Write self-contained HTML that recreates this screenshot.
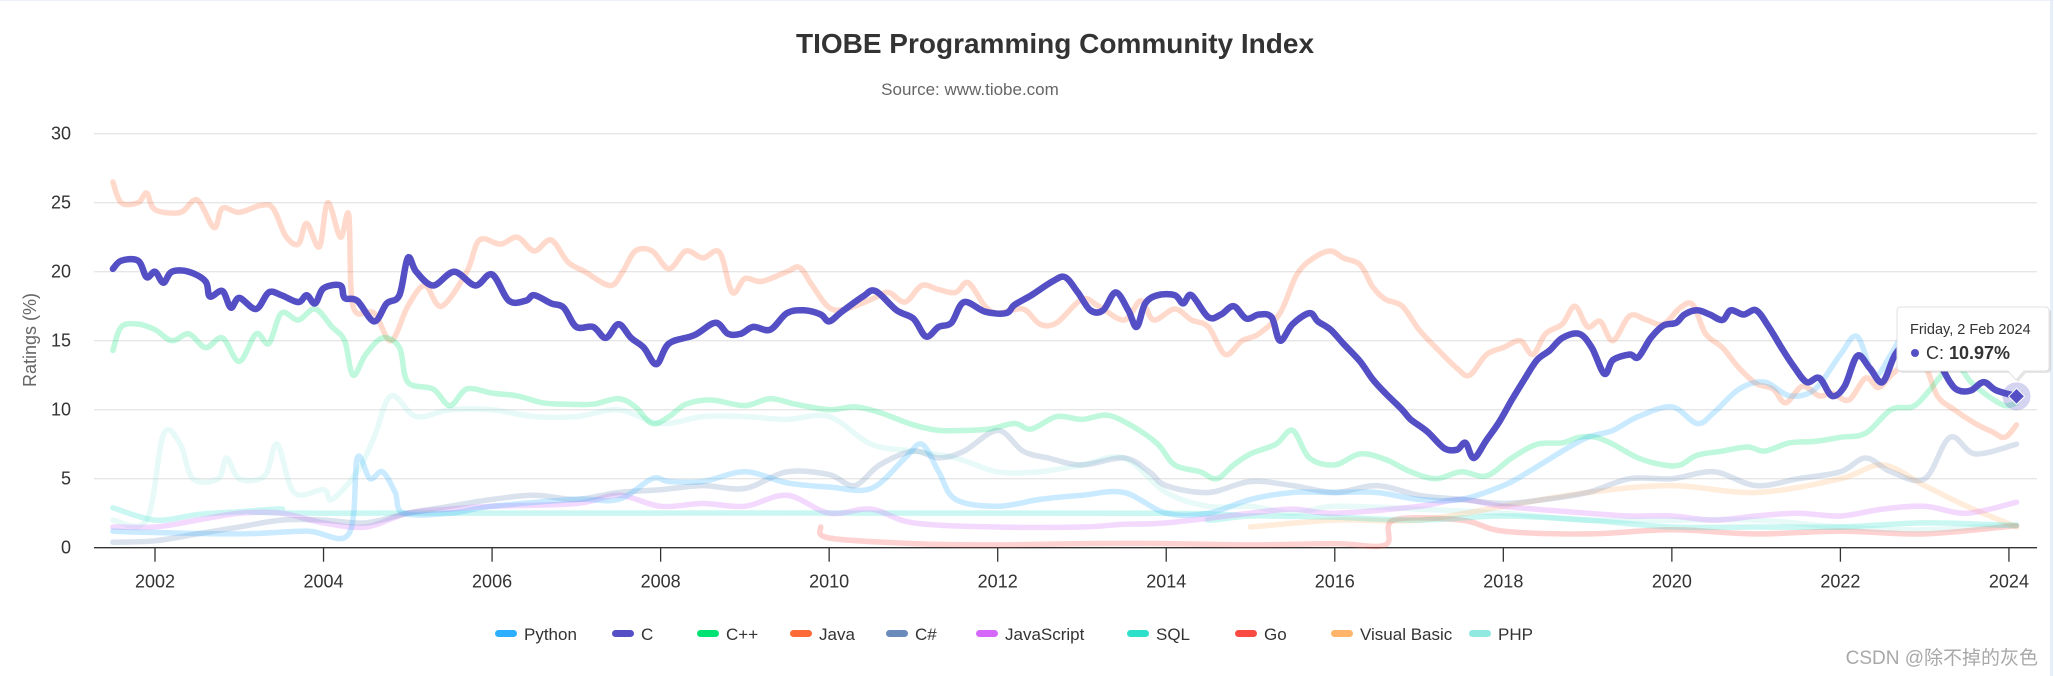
<!DOCTYPE html>
<html><head><meta charset="utf-8">
<style>
html,body{margin:0;padding:0;background:#fff;}
body{width:2054px;height:676px;overflow:hidden;position:relative;font-family:"Liberation Sans","Noto Sans CJK SC",sans-serif;}
svg{position:absolute;left:0;top:0;}
</style></head>
<body>
<svg id="chart" width="2054" height="676" xmlns="http://www.w3.org/2000/svg">
<rect x="0" y="0" width="2054" height="676" fill="#fff"/>
<line x1="0" y1="0.5" x2="2054" y2="0.5" stroke="#eef3f9"/>
<line x1="2051.5" y1="0" x2="2051.5" y2="676" stroke="#e6eef7" stroke-width="3"/>
<text x="1055" y="53" text-anchor="middle" font-size="28" font-weight="bold" fill="#333">TIOBE Programming Community Index</text>
<text x="970" y="95" text-anchor="middle" font-size="17" fill="#666">Source: www.tiobe.com</text>
<g id="grid"></g>
<g id="yaxis"></g>
<g id="xaxis"></g>
<g id="series"></g>
<g id="legend"></g>
<g id="tooltip"></g>
<text x="36" y="340" transform="rotate(-90 36 340)" text-anchor="middle" font-size="18" fill="#666">Ratings (%)</text>
<text x="2038" y="664" text-anchor="end" font-size="19" fill="#999" fill-opacity="0.85">CSDN @除不掉的灰色</text>
</svg>
<script>
const yTicks=[0,5,10,15,20,25,30];
const xTicks=[2002,2004,2006,2008,2010,2012,2014,2016,2018,2020,2022,2024];
const seriesNames=["Python","C","C++","Java","C#","JavaScript","SQL","Go","Visual Basic","PHP"];
const seriesColors=["#2caffe","#544fc5","#00e272","#fe6a35","#6b8abc","#d568fb","#2ee0ca","#fa4b42","#feb56a","#91e8e1"];
const legendX=[495,612,697,790,886,976,1127,1235,1331,1469];

const cT=[2001.5,2001.6,2001.8,2001.9,2002.0,2002.1,2002.2,2002.4,2002.6,2002.65,2002.8,2002.9,2003.0,2003.2,2003.35,2003.5,2003.7,2003.8,2003.9,2004.0,2004.2,2004.25,2004.4,2004.6,2004.75,2004.9,2005.0,2005.1,2005.3,2005.55,2005.8,2006.0,2006.2,2006.4,2006.5,2006.7,2006.85,2007.0,2007.2,2007.35,2007.5,2007.65,2007.8,2007.95,2008.1,2008.4,2008.65,2008.8,2008.95,2009.1,2009.3,2009.5,2009.7,2009.9,2010.0,2010.15,2010.4,2010.55,2010.8,2011.0,2011.15,2011.3,2011.45,2011.6,2011.85,2012.1,2012.2,2012.4,2012.65,2012.8,2012.95,2013.1,2013.25,2013.4,2013.55,2013.65,2013.75,2013.9,2014.1,2014.2,2014.3,2014.5,2014.65,2014.8,2014.95,2015.1,2015.25,2015.35,2015.5,2015.7,2015.8,2015.95,2016.1,2016.3,2016.45,2016.6,2016.8,2016.9,2017.1,2017.3,2017.45,2017.55,2017.65,2017.8,2017.95,2018.1,2018.25,2018.4,2018.55,2018.7,2018.9,2019.05,2019.2,2019.3,2019.5,2019.6,2019.75,2019.9,2020.05,2020.15,2020.3,2020.45,2020.6,2020.7,2020.85,2021.0,2021.15,2021.3,2021.45,2021.6,2021.75,2021.9,2022.05,2022.2,2022.35,2022.5,2022.65,2022.8,2023.0,2023.15,2023.3,2023.4,2023.55,2023.7,2023.85,2024.09];
const cV=[20.2,20.8,20.8,19.6,20.0,19.2,20.0,20.0,19.3,18.2,18.6,17.4,18.1,17.3,18.5,18.3,17.8,18.3,17.7,18.8,19.0,18.1,17.9,16.4,17.7,18.3,21.0,20.0,19.0,20.0,19.0,19.8,17.9,17.9,18.3,17.7,17.4,16.0,16.0,15.2,16.2,15.2,14.5,13.3,14.8,15.4,16.3,15.5,15.5,16.0,15.8,17.0,17.2,16.9,16.4,17.1,18.2,18.6,17.2,16.6,15.3,16.0,16.3,17.8,17.1,17.0,17.6,18.3,19.3,19.6,18.5,17.2,17.2,18.5,17.2,16.0,17.7,18.3,18.3,17.7,18.3,16.7,16.9,17.5,16.6,16.9,16.7,15.0,16.2,17.0,16.4,15.8,14.8,13.5,12.2,11.2,10.0,9.3,8.4,7.2,7.1,7.6,6.5,7.8,9.1,10.7,12.2,13.6,14.3,15.2,15.5,14.5,12.6,13.6,14.0,13.8,15.2,16.1,16.3,16.9,17.2,16.9,16.5,17.2,16.9,17.2,16.0,14.5,13.1,12.0,12.3,11.0,11.7,13.9,13.0,12.0,14.0,14.8,14.3,13.6,12.0,11.4,11.4,12.0,11.4,10.97];

const javaT=[2001.5,2001.6,2001.8,2001.9,2002.0,2002.3,2002.5,2002.7,2002.8,2003.0,2003.25,2003.4,2003.55,2003.7,2003.8,2003.95,2004.05,2004.2,2004.3,2004.35,2004.6,2004.8,2005.0,2005.2,2005.4,2005.7,2005.85,2006.1,2006.3,2006.5,2006.7,2006.9,2007.1,2007.4,2007.55,2007.7,2007.9,2008.1,2008.3,2008.5,2008.7,2008.85,2009.0,2009.2,2009.5,2009.65,2009.8,2010.0,2010.2,2010.5,2010.7,2010.9,2011.1,2011.3,2011.5,2011.65,2011.85,2012.0,2012.3,2012.5,2012.7,2013.0,2013.2,2013.5,2013.7,2013.85,2014.1,2014.3,2014.5,2014.7,2014.9,2015.1,2015.35,2015.55,2015.75,2015.95,2016.1,2016.3,2016.45,2016.6,2016.8,2017.0,2017.2,2017.45,2017.6,2017.8,2018.0,2018.2,2018.35,2018.5,2018.7,2018.85,2019.0,2019.15,2019.3,2019.5,2019.7,2019.9,2020.1,2020.25,2020.4,2020.6,2020.8,2021.0,2021.2,2021.35,2021.55,2021.75,2021.9,2022.1,2022.3,2022.45,2022.6,2022.8,2023.0,2023.15,2023.35,2023.6,2023.8,2023.95,2024.09];
const javaV=[26.5,25,25,25.7,24.5,24.3,25.2,23.2,24.6,24.3,24.8,24.6,22.6,22,23.5,21.8,25,22.5,24.1,17.5,17,15,17.5,19,17.5,20,22.3,22,22.5,21.5,22.3,20.7,20,19,20,21.5,21.5,20.2,21.5,21,21.4,18.5,19.5,19.3,20,20.3,19,17.4,17.3,18.0,18.5,17.8,19.0,18.7,18.5,19.2,17.5,17.0,17.3,16.2,16.3,18.0,17.5,16.5,17.9,16.5,17.3,16.5,16.0,14.0,15,15.5,17.0,19.8,21.0,21.5,21.0,20.5,18.9,18.0,17.5,15.8,14.5,13,12.5,14.0,14.5,15,14,15.5,16.2,17.5,16.0,16.4,15,16.8,16.5,16.2,17.4,17.6,15.5,14.5,13.0,11.9,11.5,10.5,11.7,11.0,11.2,10.7,12.3,11.6,12.5,13.4,13.2,11.0,10.0,9.0,8.4,8.0,8.9];

const cppT=[2001.5,2001.6,2001.8,2002.0,2002.2,2002.4,2002.6,2002.8,2003.0,2003.2,2003.35,2003.5,2003.7,2003.9,2004.1,2004.25,2004.35,2004.5,2004.7,2004.9,2005.0,2005.3,2005.5,2005.7,2006.0,2006.3,2006.6,2006.9,2007.2,2007.5,2007.7,2007.9,2008.1,2008.3,2008.6,2009.0,2009.3,2009.6,2010.0,2010.3,2010.6,2011.0,2011.3,2011.6,2011.9,2012.2,2012.4,2012.7,2013.0,2013.3,2013.6,2013.9,2014.1,2014.4,2014.6,2014.8,2015.0,2015.3,2015.5,2015.7,2016.0,2016.3,2016.6,2016.9,2017.2,2017.5,2017.8,2018.1,2018.4,2018.7,2018.9,2019.1,2019.3,2019.6,2019.9,2020.1,2020.3,2020.6,2020.9,2021.1,2021.4,2021.7,2022.0,2022.3,2022.6,2022.85,2023.0,2023.2,2023.35,2023.55,2023.75,2023.95,2024.09];
const cppV=[14.3,16,16.2,15.8,15,15.5,14.5,15.2,13.5,15.5,14.8,17,16.5,17.3,16,15,12.5,14,15.2,14.5,12,11.5,10.3,11.5,11.2,11,10.5,10.4,10.4,10.8,10.2,9.0,9.5,10.4,10.7,10.3,10.8,10.4,10.0,10.2,9.8,8.9,8.5,8.5,8.6,9.0,8.6,9.5,9.3,9.6,8.8,7.5,6.0,5.5,5.0,6.0,6.8,7.5,8.5,6.5,6.0,6.8,6.4,5.5,5.0,5.5,5.2,6.5,7.5,7.6,8.0,8.0,7.5,6.5,6.0,6.0,6.7,7.0,7.3,7.0,7.6,7.7,8.0,8.3,10,10.2,11.0,12.5,13.5,12.0,11.0,10.3,10.5];

const pyT=[2001.5,2002,2003,2003.8,2004.3,2004.4,2004.55,2004.7,2004.85,2004.95,2005.5,2006,2007,2007.5,2007.9,2008.1,2008.5,2009,2009.5,2010,2010.5,2010.9,2011.1,2011.3,2011.5,2012,2012.5,2013,2013.5,2014,2014.5,2015,2015.5,2016,2016.5,2017,2017.5,2018,2018.3,2018.7,2019,2019.3,2019.6,2020,2020.3,2020.5,2020.8,2021.1,2021.4,2021.7,2022.0,2022.2,2022.4,2022.6,2022.8,2023.0,2023.2,2023.5,2023.8,2024.09];
const pyV=[1.2,1.1,1.0,1.2,1.0,6.5,5.0,5.5,4.0,2.5,2.5,3.0,3.5,3.5,5.0,4.8,4.8,5.5,4.7,4.4,4.3,6.5,7.5,5.5,3.5,3.0,3.5,3.8,4.0,2.5,2.5,3.5,4.0,4.0,4.0,3.5,3.5,4.5,5.5,7.0,8.0,8.5,9.5,10.2,9.0,9.8,11.5,12.0,11.0,11.5,14.0,15.3,12.5,14.0,16.0,16.0,14.0,13.5,14.5,15.2];

const csT=[2001.5,2002,2002.5,2003,2003.5,2004,2004.5,2005,2005.5,2006,2006.5,2007,2007.5,2008,2008.5,2009,2009.5,2010,2010.3,2010.6,2011,2011.3,2011.6,2012,2012.3,2012.6,2013,2013.5,2013.8,2014,2014.5,2015,2015.5,2016,2016.5,2017,2017.5,2018,2018.5,2019,2019.5,2020,2020.5,2021,2021.5,2022,2022.3,2022.6,2023,2023.3,2023.6,2024.09];
const csV=[0.4,0.5,1.0,1.5,2.0,2.0,1.8,2.5,3.0,3.5,3.8,3.5,4.0,4.2,4.5,4.3,5.5,5.3,4.5,6.0,7.0,6.5,7.0,8.5,7.0,6.5,6.0,6.5,5.5,4.5,4.0,4.8,4.5,4.0,4.5,3.8,3.5,3.2,3.5,4.0,5.0,5.0,5.5,4.5,5.0,5.5,6.5,5.5,5.0,8.0,6.8,7.5];

const jsT=[2001.5,2002,2002.5,2003,2003.5,2004,2004.5,2005,2005.5,2006,2007,2007.5,2008,2008.5,2009,2009.5,2010,2010.5,2011,2012,2013,2013.5,2014,2015,2015.5,2016,2017,2017.5,2018,2019,2019.5,2020,2020.5,2021,2021.5,2022,2022.5,2023,2023.5,2024.09];
const jsV=[1.5,1.5,2.0,2.5,2.5,1.8,1.5,2.5,2.8,3.0,3.2,3.8,3.0,3.2,3.0,3.8,2.5,2.8,1.8,1.5,1.5,1.7,1.8,2.5,2.8,2.5,3.0,3.5,3.0,2.5,2.3,2.3,2.0,2.3,2.5,2.3,2.8,3.0,2.5,3.3];

const sqlT=[2001.5,2002,2002.5,2003,2003.5,2004,2014,2014.5,2015,2016,2017,2018,2019,2020,2021,2022,2023,2024.09];
const sqlV=[2.9,2.0,2.4,2.6,2.8,2.5,2.5,2.0,2.3,2.2,2.0,2.3,2.0,1.5,1.5,1.5,1.8,1.6];

const goT=[2009.9,2010,2011,2012,2013,2014,2015,2016,2016.6,2016.7,2017.5,2018,2019,2020,2021,2022,2023,2024.09];
const goV=[1.5,0.7,0.3,0.2,0.3,0.3,0.2,0.3,0.2,2.0,2.0,1.2,1.0,1.3,1.0,1.2,1.0,1.6];

const vbT=[2015,2016,2017,2018,2019,2020,2021,2022,2022.5,2023,2023.5,2024.09];
const vbV=[1.5,2.0,2.0,3.0,4.0,4.5,4.0,5.0,6.0,4.5,3.0,1.5];

const phpT=[2001.5,2001.9,2002.1,2002.3,2002.45,2002.75,2002.85,2003.0,2003.3,2003.45,2003.65,2004.0,2004.1,2004.4,2004.6,2004.8,2005.1,2005.5,2006,2006.5,2007,2007.5,2008,2008.5,2009,2009.5,2010,2010.5,2011,2011.5,2012,2012.5,2013,2013.5,2014,2014.5,2015,2015.5,2016,2017,2018,2019,2020,2021,2022,2023,2024.09];
const phpV=[2.0,2.0,8.2,7.5,5.0,5.0,6.5,5.0,5.2,7.5,4.0,4.2,3.5,5.5,8,11.0,9.5,10.0,10,9.5,9.5,10,9.0,9.5,9.5,9.3,9.5,7.5,7.0,6.5,5.5,5.5,6.0,6.5,4.0,3.0,3.0,2.5,3.0,2.8,2.5,2.0,2.0,2.0,1.5,1.3,1.7];

const NS="http://www.w3.org/2000/svg";
const X0=155, PX_YR=84.27, Y0=547.7, PX_U=13.8, LEFT=94, RIGHT=2037;
function xs(t){return X0+(t-2002)*PX_YR;}
function ys(v){return Y0-v*PX_U;}
function mk(tag,attrs,parent){const e=document.createElementNS(NS,tag);for(const k in attrs)e.setAttribute(k,attrs[k]);parent.appendChild(e);return e;}

const grid=document.getElementById('grid'), yax=document.getElementById('yaxis'), xax=document.getElementById('xaxis');
yTicks.forEach(v=>{
  if(v>0){const l=mk('line',{x1:LEFT,x2:RIGHT,y1:ys(v),y2:ys(v),stroke:'#e6e6e6','stroke-width':1.3},grid);
  
  }
  const t=mk('text',{x:71,y:ys(v)+6,'text-anchor':'end','font-size':18,fill:'#333'},yax);
  t.textContent=v;
  
  
});
const ax=mk('line',{x1:LEFT,x2:RIGHT,y1:Y0,y2:Y0,stroke:'#333','stroke-width':1.3},xax);


xTicks.forEach(yr=>{
  const tk=mk('line',{x1:xs(yr),x2:xs(yr),y1:Y0,y2:Y0+14,stroke:'#333','stroke-width':1.3},xax);
  
  
  const t=mk('text',{x:xs(yr),y:Y0+40,'text-anchor':'middle','font-size':18,fill:'#333'},xax);
  t.textContent=yr;
  
  
});

function pathD(T,V){
  const p=T.map((t,i)=>[xs(t),ys(V[i])]);
  let d='M'+p[0][0].toFixed(1)+','+p[0][1].toFixed(1);
  for(let i=0;i<p.length-1;i++){
    const p0=p[i-1]||p[i],p1=p[i],p2=p[i+1],p3=p[i+2]||p2;
    const c1=[p1[0]+(p2[0]-p0[0])/6,p1[1]+(p2[1]-p0[1])/6];
    const c2=[p2[0]-(p3[0]-p1[0])/6,p2[1]-(p3[1]-p1[1])/6];
    d+=' C'+c1.map(n=>n.toFixed(1)).join(',')+' '+c2.map(n=>n.toFixed(1)).join(',')+' '+p2[0].toFixed(1)+','+p2[1].toFixed(1);
  }
  return d;
}
const sg=document.getElementById('series');
const seriesData=[[pyT,pyV],[cT,cV],[cppT,cppV],[javaT,javaV],[csT,csV],[jsT,jsV],[sqlT,sqlV],[goT,goV],[vbT,vbV],[phpT,phpV]];
const order=[9,8,7,6,5,4,3,2,0,1];
const slug=['python','c','cpp','java','csharp','javascript','sql','go','visual-basic','php'];
order.forEach(i=>{
  const [T,V]=seriesData[i];
  const isC=i===1;
  const p=mk('path',{d:pathD(T,V),fill:'none',stroke:seriesColors[i],'stroke-width':isC?6.5:5.5,'stroke-linejoin':'round','stroke-linecap':'round','stroke-opacity':isC?1:(i===9?0.22:0.25)},sg);
  
  
});

const lg=document.getElementById('legend');
seriesNames.forEach((n,i)=>{
  const g=mk('g',{},lg);
  
  
  mk('rect',{x:legendX[i],y:630,width:22,height:7,rx:3.5,fill:seriesColors[i]},g);
  const t=mk('text',{x:legendX[i]+29,y:640,'font-size':17,fill:'#333'},g);
  t.textContent=n;
});

const tt=document.getElementById('tooltip');
const lastT=cT[cT.length-1], lastV=cV[cV.length-1];
const mx=xs(lastT), my=ys(lastV);
const halo=mk('circle',{cx:mx,cy:my,r:14,fill:'#544fc5','fill-opacity':0.25},tt);


const dm=mk('path',{d:`M${mx},${my-8} L${mx+8},${my} L${mx},${my+8} L${mx-8},${my} Z`,fill:'#544fc5',stroke:'#fff','stroke-width':1},tt);


const tg=mk('g',{},tt);


mk('path',{d:'M1901,307 H2045 Q2049,307 2049,311 V367 Q2049,371 2045,371 H2024 L2016,380 L2008,371 H1901 Q1897,371 1897,367 V311 Q1897,307 1901,307 Z',fill:'#000','fill-opacity':0.1,transform:'translate(2,2)'},tg);
mk('path',{d:'M1901,307 H2045 Q2049,307 2049,311 V367 Q2049,371 2045,371 H2024 L2016,380 L2008,371 H1901 Q1897,371 1897,367 V311 Q1897,307 1901,307 Z',fill:'#fff',stroke:'#e0e0e0','stroke-width':1},tg);
const t1=mk('text',{x:1910,y:334,'font-size':14.5,fill:'#333'},tg);
t1.textContent='Friday, 2 Feb 2024';
mk('circle',{cx:1915,cy:353,r:4,fill:'#544fc5'},tg);
const t2=mk('text',{x:1926,y:359,'font-size':18,fill:'#333'},tg);
t2.innerHTML='C: <tspan font-weight="bold">'+lastV.toFixed(2)+'%</tspan>';
</script>
</body></html>
